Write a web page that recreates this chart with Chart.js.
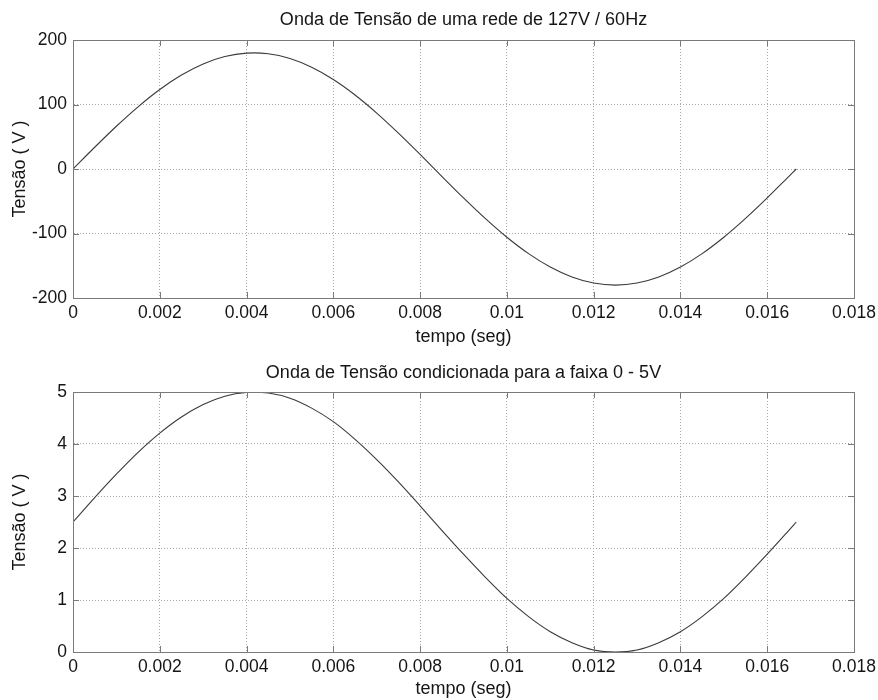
<!DOCTYPE html>
<html>
<head>
<meta charset="utf-8">
<script src="https://cdn.jsdelivr.net/npm/chart.js@4/dist/chart.umd.min.js"></script>
<style>
  html, body { margin: 0; padding: 0; background: #fff; }
  #wrap { position: relative; width: 878px; height: 700px; }
  .box { position: absolute; left: 0; width: 878px; height: 350px; }
</style>
</head>
<body>
<div id="wrap">
  <div class="box" style="top:0"><canvas id="c1" width="878" height="350"></canvas></div>
  <div class="box" style="top:350px"><canvas id="c2" width="878" height="350"></canvas></div>
</div>
<script>
// ---- data ----
const tempo = [0, 0.0005, 0.001, 0.0015, 0.002, 0.0025, 0.003, 0.0035, 0.004, 0.0045,
  0.005, 0.0055, 0.006, 0.0065, 0.007, 0.0075, 0.008, 0.0085, 0.009, 0.0095,
  0.010, 0.0105, 0.011, 0.0115, 0.012, 0.0125, 0.013, 0.0135, 0.014, 0.0145,
  0.015, 0.0155, 0.016, 0.0165, 0.01667];
const tensaoRede = [0, 33.7, 66.3, 96.4, 123.2, 145.6, 162.9, 174.3, 179.6, 178.6,
  171.2, 157.7, 138.7, 114.7, 86.7, 55.6, 22.6, -11.3, -44.8, -76.6,
  -105.8, -131.2, -152.0, -167.4, -176.8, -180.0, -176.8, -167.4, -152.0, -131.2,
  -105.8, -76.6, -44.8, -11.3, 0];
const tensaoCond = [2.5, 2.97, 3.42, 3.84, 4.21, 4.52, 4.76, 4.92, 4.99, 4.98,
  4.88, 4.69, 4.43, 4.09, 3.70, 3.27, 2.81, 2.34, 1.88, 1.44,
  1.03, 0.68, 0.39, 0.18, 0.04, 0.0, 0.04, 0.18, 0.39, 0.68,
  1.03, 1.44, 1.88, 2.34, 2.5];
const xTickValues = [0, 0.002, 0.004, 0.006, 0.008, 0.01, 0.012, 0.014, 0.016, 0.018];
const xTickLabels = ['0', '0.002', '0.004', '0.006', '0.008', '0.01', '0.012', '0.014', '0.016', '0.018'];
const yTicksRede = [-200, -100, 0, 100, 200];
const yTicksCond = [0, 1, 2, 3, 4, 5];
const titulo1 = 'Onda de Tensão de uma rede de 127V / 60Hz';
const titulo2 = 'Onda de Tensão condicionada para a faixa 0 - 5V';
const tituloX = 'tempo (seg)';
const tituloY = 'Tensão ( V )';

const FONT = "'Liberation Sans', Arial, sans-serif";
const TXT = '#151515';
const GRID = '#a8a8a8';
const AXIS = '#7a7a7a';

// box + inward tick marks (MATLAB style) + title centred over the plot area
const boxPlugin = {
  id: 'boxTicks',
  afterDraw(chart, args, opts) {
    const { ctx, chartArea: a, scales: { x, y } } = chart;
    ctx.save();
    ctx.strokeStyle = AXIS;
    ctx.lineWidth = 1;
    ctx.beginPath();
    ctx.rect(Math.round(a.left) + 0.5, Math.round(a.top) + 0.5,
             Math.round(a.right - a.left), Math.round(a.bottom - a.top));
    ctx.stroke();
    const L = 6;
    ctx.beginPath();
    x.ticks.forEach(t => {
      const px = Math.round(x.getPixelForValue(t.value)) + 0.5;
      ctx.moveTo(px, a.bottom); ctx.lineTo(px, a.bottom - L);
      ctx.moveTo(px, a.top); ctx.lineTo(px, a.top + L);
    });
    y.ticks.forEach(t => {
      const py = Math.round(y.getPixelForValue(t.value)) + 0.5;
      ctx.moveTo(a.left, py); ctx.lineTo(a.left + L, py);
      ctx.moveTo(a.right, py); ctx.lineTo(a.right - L, py);
    });
    ctx.stroke();
    // title
    ctx.fillStyle = TXT;
    ctx.font = '18px ' + FONT;
    ctx.textAlign = 'center';
    ctx.textBaseline = 'middle';
    ctx.fillText(opts.text, (a.left + a.right) / 2, opts.y);
    ctx.restore();
  }
};

function makeChart(id, values, yTicks, title, titleY, topPad, xHeight, xTitlePad) {
  const pts = tempo.map((t, i) => ({ x: t, y: values[i] }));
  return new Chart(document.getElementById(id), {
    type: 'line',
    data: { datasets: [{
      data: pts,
      borderColor: '#3a3a3a',
      borderWidth: 1.1,
      pointRadius: 0,
      tension: 0.3,
      fill: false
    }] },
    options: {
      responsive: false,
      animation: false,
      events: [],
      layout: { padding: { left: 0, right: 24, top: topPad, bottom: 0 } },
      plugins: {
        legend: { display: false },
        tooltip: { enabled: false },
        title: { display: false },
        boxTicks: { text: title, y: titleY }
      },
      scales: {
        x: {
          type: 'linear', min: xTickValues[0], max: xTickValues[xTickValues.length - 1],
          afterBuildTicks(s) { s.ticks = xTickValues.map(v => ({ value: v })); },
          afterFit(s) { s.height = xHeight; s.paddingRight = 0; s.paddingLeft = 0; },
          ticks: {
            color: TXT, padding: 5, maxRotation: 0, autoSkip: false,
            font: { family: FONT, size: 17.5 },
            callback: (v, i) => xTickLabels[i]
          },
          grid: { color: GRID, lineWidth: 1, drawTicks: false },
          border: { display: true, color: AXIS, dash: [1, 2] },
          title: { display: true, text: tituloX, color: TXT,
                   font: { family: FONT, size: 18 }, padding: { top: 0, bottom: xTitlePad } }
        },
        y: {
          type: 'linear', min: yTicks[0], max: yTicks[yTicks.length - 1],
          afterBuildTicks(s) { s.ticks = yTicks.map(v => ({ value: v })); },
          afterFit(s) { s.width = 73; s.paddingTop = 0; s.paddingBottom = 0; },
          ticks: {
            color: TXT, padding: 6, autoSkip: false,
            font: { family: FONT, size: 17.5 },
            callback: (v) => String(v)
          },
          grid: { color: GRID, lineWidth: 1, drawTicks: false },
          border: { display: true, color: AXIS, dash: [1, 2] },
          title: { display: true, text: tituloY, color: TXT,
                   font: { family: FONT, size: 18 }, padding: { top: 9, bottom: 0 } }
        }
      }
    },
    plugins: [boxPlugin]
  });
}

makeChart('c1', tensaoRede, yTicksRede, titulo1, 20, 40, 52, 2);
makeChart('c2', tensaoCond, yTicksCond, titulo2, 23, 42, 48, 0);
</script>
</body>
</html>
